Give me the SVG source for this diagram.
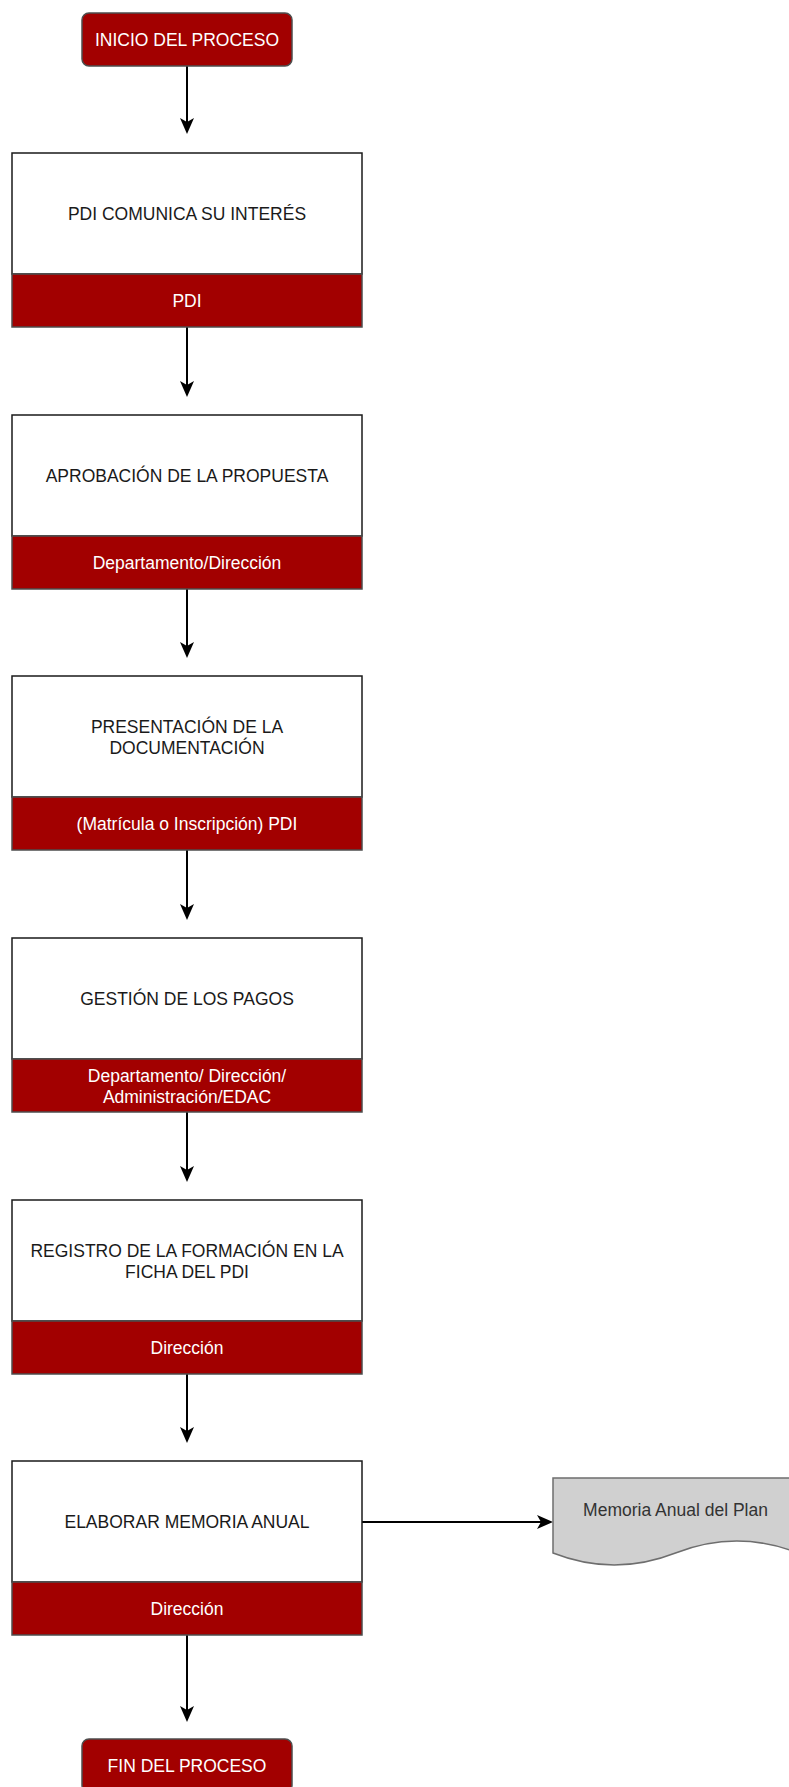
<svg xmlns="http://www.w3.org/2000/svg" width="789" height="1787" viewBox="0 0 789 1787">
  <style>
    text { font-family: "Liberation Sans", Arial, sans-serif; font-size: 17.5px; text-anchor: middle; }
    .task { fill: #ffffff; stroke: #1a1a1a; stroke-width: 1.5; }
    .role { fill: #a20000; stroke: #4d4d4d; stroke-width: 1.5; }
    .term { fill: #a20000; stroke: #4d4d4d; stroke-width: 1.5; }
    .dark { fill: #1a1a1a; }
    .light { fill: #ffffff; }
    .doc { fill: #d0d0d0; stroke: #6e6e6e; stroke-width: 1.5; }
    .doctext { fill: #333333; }
    .edge { fill: none; stroke: #000000; stroke-width: 2; marker-end: url(#arrow); }
  </style>
  <defs>
    <marker id="arrow" viewBox="0 0 16 14" refX="4" refY="7" markerWidth="16" markerHeight="14" markerUnits="userSpaceOnUse" orient="auto">
      <path d="M0,0 L16,7 L0,14 L4,7 Z" fill="#000000"/>
    </marker>
  </defs>

  <rect width="789" height="1787" fill="#ffffff"/>

  <!-- connectors -->
  <g id="connectors">
    <path class="edge" d="M187,66 V122"/>
    <path class="edge" d="M187,327 V385"/>
    <path class="edge" d="M187,589 V646"/>
    <path class="edge" d="M187,850 V908"/>
    <path class="edge" d="M187,1112 V1170"/>
    <path class="edge" d="M187,1374 V1431"/>
    <path class="edge" d="M187,1635 V1710"/>
    <path class="edge" d="M362,1522 H541"/>
  </g>

  <!-- start -->
  <g id="inicio">
    <rect class="term" x="82" y="13" width="210" height="53" rx="7"/>
    <text class="light" x="187" y="45.5">INICIO DEL PROCESO</text>
  </g>

  <g id="comunica">
    <rect class="task" x="12" y="153" width="350" height="121"/>
    <rect class="role" x="12" y="274" width="350" height="53"/>
    <text class="dark" x="187" y="220">PDI COMUNICA SU INTERÉS</text>
    <text class="light" x="187" y="307">PDI</text>
  </g>

  <g id="aprobacion">
    <rect class="task" x="12" y="415" width="350" height="121"/>
    <rect class="role" x="12" y="536" width="350" height="53"/>
    <text class="dark" x="187" y="482">APROBACIÓN DE LA PROPUESTA</text>
    <text class="light" x="187" y="569">Departamento/Dirección</text>
  </g>

  <g id="presentacion">
    <rect class="task" x="12" y="676" width="350" height="121"/>
    <rect class="role" x="12" y="797" width="350" height="53"/>
    <text class="dark" x="187" y="732.5">PRESENTACIÓN DE LA</text>
    <text class="dark" x="187" y="753.5">DOCUMENTACIÓN</text>
    <text class="light" x="187" y="830">(Matrícula o Inscripción) PDI</text>
  </g>

  <g id="pagos">
    <rect class="task" x="12" y="938" width="350" height="121"/>
    <rect class="role" x="12" y="1059" width="350" height="53"/>
    <text class="dark" x="187" y="1005">GESTIÓN DE LOS PAGOS</text>
    <text class="light" x="187" y="1082">Departamento/ Dirección/</text>
    <text class="light" x="187" y="1103">Administración/EDAC</text>
  </g>

  <g id="registro">
    <rect class="task" x="12" y="1200" width="350" height="121"/>
    <rect class="role" x="12" y="1321" width="350" height="53"/>
    <text class="dark" x="187" y="1256.5">REGISTRO DE LA FORMACIÓN EN LA</text>
    <text class="dark" x="187" y="1277.5">FICHA DEL PDI</text>
    <text class="light" x="187" y="1354">Dirección</text>
  </g>

  <g id="memoria">
    <rect class="task" x="12" y="1461" width="350" height="121"/>
    <rect class="role" x="12" y="1582" width="350" height="53"/>
    <text class="dark" x="187" y="1528">ELABORAR MEMORIA ANUAL</text>
    <text class="light" x="187" y="1615">Dirección</text>
  </g>

  <!-- output document -->
  <g id="documento">
    <path class="doc" d="M553,1478 H798 V1553 Q736.75,1529 675.5,1553 Q614.25,1577 553,1553 Z"/>
    <text class="doctext" x="675.5" y="1515.5">Memoria Anual del Plan</text>
  </g>

  <!-- end -->
  <g id="fin">
    <rect class="term" x="82" y="1739" width="210" height="53" rx="7"/>
    <text class="light" x="187" y="1771.5">FIN DEL PROCESO</text>
  </g>
</svg>
